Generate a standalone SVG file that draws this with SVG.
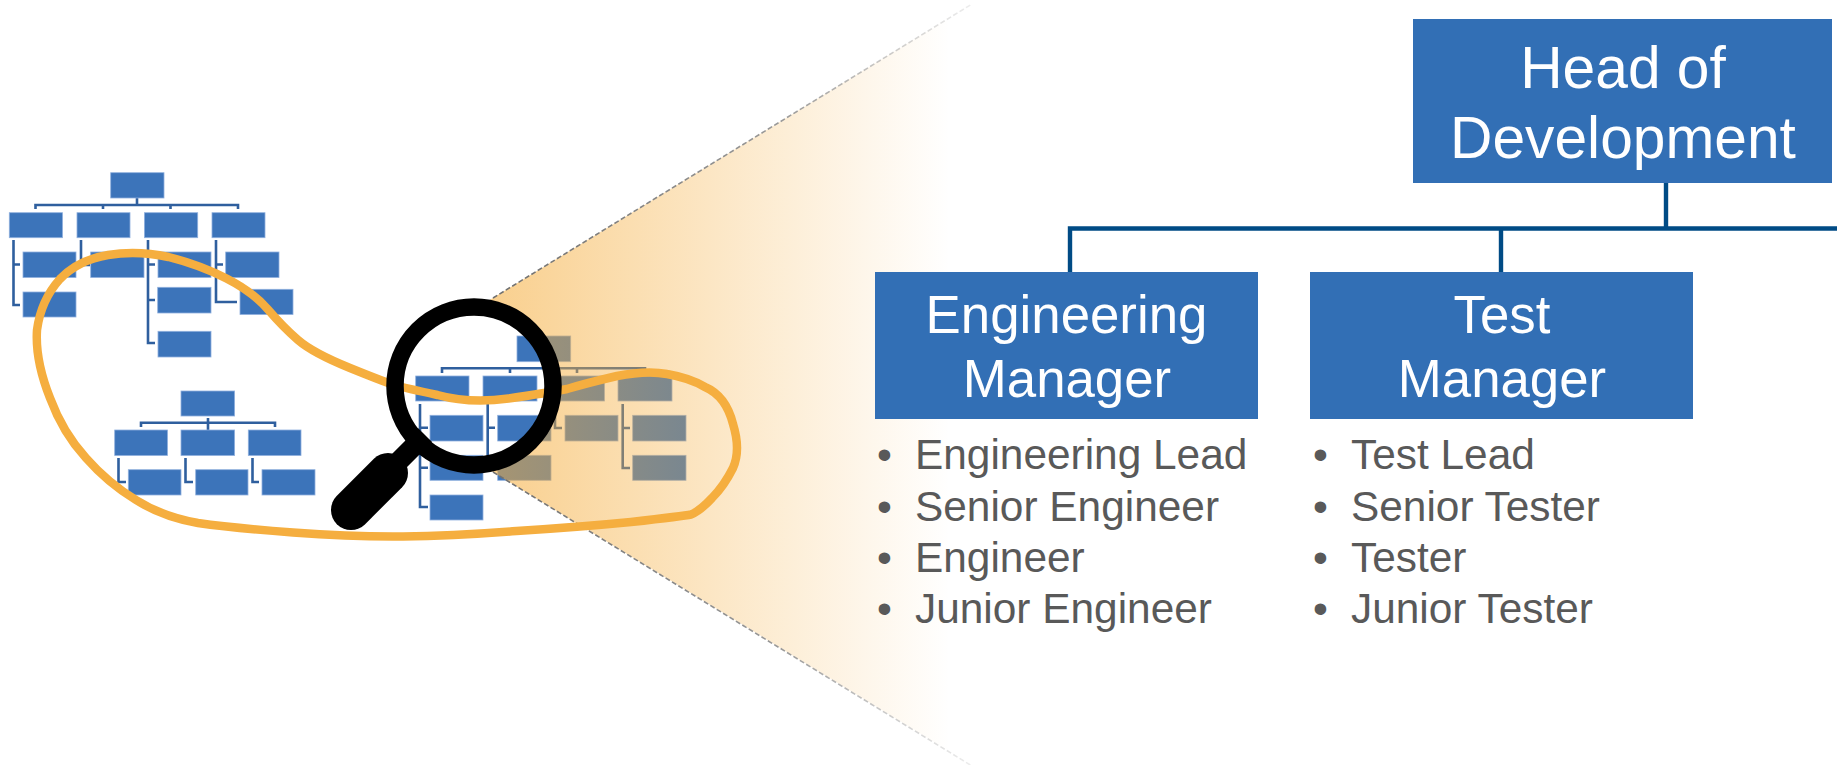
<svg xmlns="http://www.w3.org/2000/svg" width="1837" height="765" viewBox="0 0 1837 765">
<style>
.b{fill:#3c74ba;stroke:#8fb0de;stroke-width:.8}
.c{fill:none;stroke:#2f5f9e;stroke-width:2.6}
.m{fill:#326fb5}
.k{fill:none;stroke:#004b85;stroke-width:4.4}
text{font-family:"Liberation Sans",Arial,sans-serif}
.h{fill:#fff;text-anchor:middle}
.l{fill:#595959;font-size:42.4px}
</style>
<defs>
<linearGradient id="fade" gradientUnits="userSpaceOnUse" x1="490" y1="0" x2="950" y2="0">
<stop offset="0" stop-color="#f5ad3c" stop-opacity=".58"/>
<stop offset="1" stop-color="#f5ad3c" stop-opacity="0"/>
</linearGradient>
<linearGradient id="dash" gradientUnits="userSpaceOnUse" x1="490" y1="0" x2="975" y2="0">
<stop offset="0" stop-color="#707070"/>
<stop offset=".6" stop-color="#999999"/>
<stop offset="1" stop-color="#aaaaaa" stop-opacity=".2"/>
</linearGradient>
</defs>
<rect width="1837" height="765" fill="#fff"/>

<g id="connectors">
<path class="c" d="M35.5,209V205H238V209M103,205V209M170.5,205V209M137,198V205"/>
<path class="c" d="M13.5,240V305H20M13.5,264.5H20M81,240V265H90M148,240V343H155M148,264.5H155M148,300H155M216,240V302H237M216,264.5H223"/>
<path class="c" d="M141,427V422.7H275V427M208,418V430"/>
<path class="c" d="M118.5,458V482H126M185.5,458V482H193M252.5,458V482H259"/>
<path class="c" d="M442,373V368.3H645V373M510,368.3V373M577,368.3V373M544,362V368.3"/>
<path class="c" d="M420,404V507H428M420,427.7H428M420,467.7H428M487.7,404V467.7H495M487.7,427.7H495M555,404V428H562M622.7,404V468H630M622.7,428H630"/>
<path class="k" d="M1666,183V228.5M1070,272V228.5H1837M1501,228.5V272"/>
</g>

<g id="tree-1">
<rect class="b" x="110.7" y="172.7" width="53.3" height="25.3"/>
<rect class="b" x="9.3" y="212.7" width="53.2" height="25"/>
<rect class="b" x="77" y="212.7" width="53" height="25"/>
<rect class="b" x="144.4" y="212.7" width="53.3" height="25"/>
<rect class="b" x="212" y="212.7" width="53" height="25"/>
<rect class="b" x="23" y="252" width="53" height="25.5"/>
<rect class="b" x="90.7" y="252" width="53.3" height="25.5"/>
<rect class="b" x="158" y="252" width="53" height="25.5"/>
<rect class="b" x="225.7" y="252" width="53.3" height="25.5"/>
<rect class="b" x="23" y="292" width="53" height="25"/>
<rect class="b" x="157.7" y="287.3" width="53.3" height="25.7"/>
<rect class="b" x="240" y="289.3" width="53" height="25.2"/>
<rect class="b" x="158" y="331.3" width="53" height="25.7"/>
</g>
<g id="tree-2">
<rect class="b" x="181" y="391" width="53.6" height="25"/>
<rect class="b" x="114.7" y="430" width="52.8" height="25.5"/>
<rect class="b" x="181" y="430" width="53.6" height="25.5"/>
<rect class="b" x="248.3" y="430" width="52.7" height="25.5"/>
<rect class="b" x="128.3" y="469.7" width="52.7" height="25.3"/>
<rect class="b" x="195.7" y="469.7" width="52.3" height="25.3"/>
<rect class="b" x="262" y="469.7" width="53" height="25.3"/>
</g>
<g id="tree-3">
<rect class="b" x="517" y="336" width="53.7" height="25.7"/>
<rect class="b" x="415.7" y="376" width="53.3" height="25"/>
<rect class="b" x="483" y="376" width="54" height="25"/>
<rect class="b" x="550.7" y="376" width="53.8" height="25"/>
<rect class="b" x="618" y="376" width="54" height="25"/>
<rect class="b" x="430" y="415.3" width="53" height="25.7"/>
<rect class="b" x="497.7" y="415.3" width="53.3" height="25.7"/>
<rect class="b" x="565" y="415.3" width="53" height="25.7"/>
<rect class="b" x="632.7" y="415.3" width="53.3" height="25.7"/>
<rect class="b" x="430" y="455.3" width="53" height="25"/>
<rect class="b" x="497.7" y="455.3" width="53.3" height="25"/>
<rect class="b" x="632.7" y="455.3" width="53.3" height="25"/>
<rect class="b" x="430" y="495" width="53" height="25"/>
</g>

<g id="zoom-wedge">
<path fill="url(#fade)" d="M486,302.3L975,2V767L486,467.7A84.6,84.6 0 0 0 486,302.3Z"/>
<path fill="none" stroke="url(#dash)" stroke-width="1.6" stroke-dasharray="5 2.5" d="M493,298L972,4M493,472L972,766"/>
</g>

<path id="selection" fill="none" stroke="#f5ae3f" stroke-width="8.5" stroke-linejoin="round" d="M108,255Q137,250 168.5,257Q200,265 226.5,278.5Q253,292 268,309.5Q283,327 298,340Q313,353 350,368Q387,383 396,385.5Q405,388 437.5,395Q470,404 508.5,398.5Q547,393 567,389Q587,383 617,376Q647,370 667,374Q690,378 705,387Q726,396 733,424Q741,450 733,468Q724,486 712,498Q700,511 691,514.5Q684,516 631,522Q580,527 516.5,531Q453,536 403,536.5Q353,537 293,532.5Q233,528 198,523Q163,517 136,500Q108,483 86,458Q63,433 50,398Q35,360 37,330Q41,300 60,279Q78,260 108,255Z"/>

<g id="magnifier">
<path fill="none" stroke="#000" stroke-width="20" d="M388,472L425,435"/>
<path fill="none" stroke="#000" stroke-width="40" stroke-linecap="round" d="M351,510L388,473"/>
<circle cx="474" cy="386" r="79" fill="none" stroke="#000" stroke-width="17.5"/>
</g>

<g id="head">
<rect class="m" x="1413" y="19" width="419" height="164"/>
<text class="h" font-size="58.7" x="1623" y="88">Head of</text>
<text class="h" font-size="58.7" x="1623" y="158">Development</text>
</g>
<g id="eng-manager">
<rect class="m" x="875" y="272" width="383" height="147"/>
<text class="h" font-size="52.8" x="1066.5" y="333">Engineering</text>
<text class="h" font-size="52.8" x="1067" y="397">Manager</text>
</g>
<g id="test-manager">
<rect class="m" x="1310" y="272" width="383" height="147"/>
<text class="h" font-size="52.8" x="1502" y="333">Test</text>
<text class="h" font-size="52.8" x="1502" y="397">Manager</text>
</g>
<g id="eng-list" class="l">
<text x="877" y="469">•</text><text x="915" y="469">Engineering Lead</text>
<text x="877" y="520.6">•</text><text x="915" y="520.6">Senior Engineer</text>
<text x="877" y="572">•</text><text x="915" y="572">Engineer</text>
<text x="877" y="623.4">•</text><text x="915" y="623.4">Junior Engineer</text>
</g>
<g id="test-list" class="l">
<text x="1313" y="469">•</text><text x="1351" y="469">Test Lead</text>
<text x="1313" y="520.6">•</text><text x="1351" y="520.6">Senior Tester</text>
<text x="1313" y="572">•</text><text x="1351" y="572">Tester</text>
<text x="1313" y="623.4">•</text><text x="1351" y="623.4">Junior Tester</text>
</g>
</svg>
